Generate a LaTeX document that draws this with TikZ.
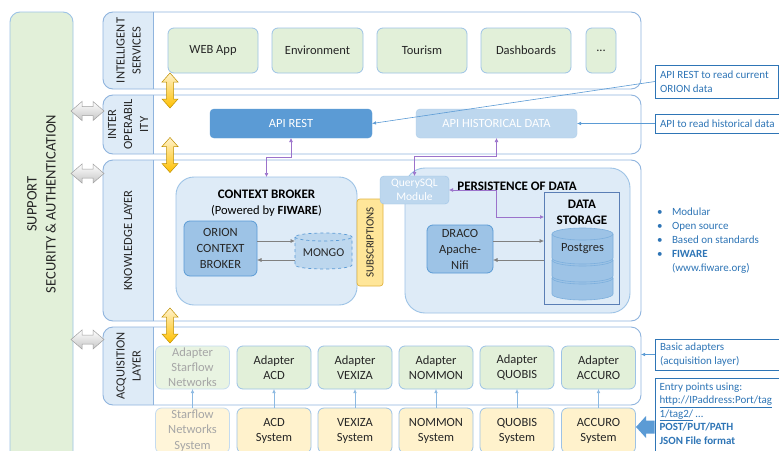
\documentclass[tikz,border=0pt]{standalone}
\usepackage{fontspec}
\setmainfont{Carlito}
\usetikzlibrary{arrows.meta}
\definecolor{lgreen}{HTML}{E2F0D9}
\definecolor{lblue}{HTML}{9DC3E6}
\definecolor{layerc}{HTML}{8FB4DE}
\definecolor{lblfill}{HTML}{DEEBF7}
\definecolor{midblue}{HTML}{5B9BD5}
\definecolor{paleblue}{HTML}{BDD7EE}
\definecolor{yfill}{HTML}{FFF2CC}
\definecolor{subfill}{HTML}{FFE699}
\definecolor{subdraw}{HTML}{E2B33F}
\definecolor{callblue}{HTML}{2E75B6}
\definecolor{purp}{HTML}{9B72CB}
\definecolor{dsdraw}{HTML}{5A7EB5}
\definecolor{orl}{HTML}{FFF2CC}
\definecolor{ord}{HTML}{FFC000}
\definecolor{ordraw}{HTML}{BF9000}
\definecolor{txt}{HTML}{262626}
\definecolor{greytxt}{HTML}{A6A6A6}

\tikzset{
  every node/.style={inner sep=0pt, outer sep=0pt, text=txt},
  bt/.style={font=\fontsize{12.5}{15}\selectfont, align=center},
  gbox/.style={bt, draw=lblue, fill=lgreen, line width=0.8pt, rounded corners=6pt, minimum height=45pt},
  abox/.style={gbox, minimum width=74pt, minimum height=43pt},
  ybox/.style={bt, draw=lblue, fill=yfill, line width=0.8pt, rounded corners=6pt, minimum width=74pt, minimum height=45pt},
  obox/.style={bt, font=\fontsize{12.5}{16}\selectfont, draw=midblue, fill=lblue, line width=0.8pt, rounded corners=6pt},
  layerline/.style={draw=layerc, line width=0.9pt},
  layernode/.style={minimum width=538pt},
  lbl/.style={align=center, rotate=90, font=\fontsize{12.5}{16}\selectfont},
  ttl/.style={font=\fontsize{13}{16}\selectfont\bfseries, align=center, text=black},
  garr/.style={draw=gray, line width=0.6pt, -{Latex[length=4.5pt,width=4pt]}},
  parr/.style={draw=purp, line width=0.7pt, {Latex[length=4pt,width=4pt]}-{Latex[length=4pt,width=4pt]}},
  barr/.style={draw=midblue!70, line width=0.6pt, -{Latex[length=4pt,width=3.5pt]}},
  carr/.style={draw=midblue, line width=0.6pt, -{Latex[length=4pt,width=3.5pt]}},
  cbox/.style={draw=callblue, line width=0.8pt, anchor=north west},
  ctext/.style={font=\fontsize{11}{13.5}\selectfont, align=left, text=callblue},
  oarrow/.style={draw=ordraw, line width=0.5pt, top color=orl, bottom color=ord},
  harrow/.style={draw=gray!75, line width=0.5pt, top color=white, bottom color=gray!45},
  pgcyl/.style={fill=lblue, draw=midblue!80, line width=0.6pt},
  pgline/.style={draw=midblue!80, line width=0.6pt},
  mgcyl/.style={fill=paleblue, draw=midblue, line width=0.7pt, dashed},
}

\newcommand{\mklayerpaint}[1]{%
  \fill[white, rounded corners=10pt] (#1.north west) rectangle (#1.south east);
  \begin{scope}
    \clip (#1.north west) rectangle ([xshift=50pt]#1.south west);
    \fill[lblfill, rounded corners=10pt] (#1.north west) rectangle (#1.south east);
  \end{scope}
  \draw[layerline] ([xshift=50pt]#1.north west) -- ([xshift=50pt]#1.south west);
  \draw[layerline, rounded corners=10pt] (#1.north west) rectangle (#1.south east);
}
\newcommand{\mkvarrow}[2]{%
  \path[oarrow, shift={(#1,#2)}] (0,-17.5) -- (8,-8.5) -- (3.5,-8.5) -- (3.5,8.5) -- (8,8.5) -- (0,17.5) -- (-8,8.5) -- (-3.5,8.5) -- (-3.5,-8.5) -- (-8,-8.5) -- cycle;}
\newcommand{\mkharrow}[2]{%
  \path[harrow, shift={(#1,#2)}] (-16.5,0) -- (-5.5,-9.5) -- (-5.5,-4.5) -- (5.5,-4.5) -- (5.5,-9.5) -- (16.5,0) -- (5.5,9.5) -- (5.5,4.5) -- (-5.5,4.5) -- (-5.5,9.5) -- cycle;}
\newcommand{\mkpgcyl}[2]{%
  \path[pgcyl] (552,#1) -- (552,#2) arc[start angle=180,end angle=360,x radius=30.5pt,y radius=6pt] -- (613,#1) arc[start angle=0,end angle=180,x radius=30.5pt,y radius=6pt] -- cycle;
  \draw[pgline] (552,#1) arc[start angle=180,end angle=360,x radius=30.5pt,y radius=6pt];}

\begin{document}
\begin{tikzpicture}[x=1pt,y=-1pt]
\useasboundingbox (0,0) rectangle (779,450);
\clip (0,0) rectangle (779,450);
\fill[white] (0,0) rectangle (779,450);

% support column
\node[draw=lblue, fill=lgreen, line width=0.9pt, rounded corners=10pt, minimum width=63pt, minimum height=460pt, anchor=north west] (sup) at (10,12) {};
\node[align=center, rotate=90, font=\fontsize{14.5}{19}\selectfont] (supt) at (41.5,204) {SUPPORT\\SECURITY \& AUTHENTICATION};

% layers
\node[layernode, minimum height=77pt] (isl) at (372,50.5) {};
\node[layernode, minimum height=59pt] (iol) at (372,124.5) {};
\node[layernode, minimum height=161pt] (kl) at (372,240.5) {};
\node[layernode, minimum height=78pt] (al) at (372,366) {};
\mklayerpaint{isl}
\mklayerpaint{iol}
\mklayerpaint{kl}
\mklayerpaint{al}
\node[lbl] (islt) at (128.5,50.5) {INTELLIGENT\\SERVICES};
\node[lbl] (iolt) at (128,124.5) {INTER\\OPERABIL\\ITY};
\node[lbl] (klt) at (128,240.5) {KNOWLEDGE LAYER};
\node[lbl] (alt) at (128.5,366) {ACQUISITION\\LAYER};

% intelligent services
\node[gbox, minimum width=90pt] (web) at (213,50.5) {WEB App};
\node[gbox, minimum width=91pt] (env) at (317.5,50.5) {Environment};
\node[gbox, minimum width=90pt] (tour) at (422,50.5) {Tourism};
\node[gbox, minimum width=90pt] (dash) at (526,50.5) {Dashboards};
\node[gbox, minimum width=30pt] (more) at (601,50.5) {...};

% interoperability
\node[bt, fill=midblue, draw=midblue, text=white, rounded corners=4pt, minimum width=162pt, minimum height=29pt] (apirest) at (291,123.5) {API REST};
\node[bt, fill=paleblue, draw=paleblue!85!midblue, text=white, rounded corners=4pt, minimum width=161pt, minimum height=29pt] (apihist) at (496.5,123.5) {API HISTORICAL DATA};

% knowledge: context broker
\node[draw=lblue, fill=lblfill, line width=0.9pt, rounded corners=18pt, minimum width=181pt, minimum height=128pt] (cb) at (266.5,241) {};
\node[ttl] (cbt) at (266.5,194) {CONTEXT BROKER};
\node[bt, text=black] (cbs) at (266.5,210.5) {(Powered by \textbf{FIWARE})};
\node[obox, minimum width=73pt, minimum height=55pt] (orion) at (220.5,248.5) {ORION\\CONTEXT\\BROKER};
\path[mgcyl] (295,237) -- (295,265) arc[start angle=180,end angle=360,x radius=28.5pt,y radius=4pt] -- (352,237) arc[start angle=0,end angle=180,x radius=28.5pt,y radius=4pt] -- cycle;
\draw[mgcyl, fill=none] (295,237) arc[start angle=180,end angle=360,x radius=28.5pt,y radius=4pt];
\node[bt, font=\fontsize{12}{14}\selectfont, minimum width=57pt, minimum height=36pt] (mongo) at (323.5,253) {MONGO};
\draw[garr] (orion.east |- 0,241) -- (mongo.west |- 0,241);
\draw[garr] (mongo.west |- 0,260) -- (orion.east |- 0,260);
\node[rotate=90, draw=subdraw, fill=subfill, line width=0.7pt, rounded corners=3pt, minimum width=87pt, minimum height=26pt, font=\fontsize{11}{13}\selectfont] (subs) at (370,242.5) {SUBSCRIPTIONS};

% knowledge: persistence
\node[draw=lblue, fill=lblfill, line width=0.9pt, rounded corners=20pt, minimum width=225pt, minimum height=145pt] (pers) at (517.5,240.5) {};
\node[bt, font=\fontsize{11.5}{14}\selectfont, fill=paleblue, draw=lblue, text=white, rounded corners=4pt, minimum width=69pt, minimum height=28pt] (qsql) at (414.5,190) {QuerySQL\\Module};
\node[draw=dsdraw, fill=lblfill, line width=1pt, minimum width=75pt, minimum height=112pt] (ds) at (581.5,248) {};
\node[ttl] (dst) at (582,212) {DATA\\STORAGE};
\mkpgcyl{278}{294}
\mkpgcyl{260}{276}
\mkpgcyl{234}{258}
\node[bt] (pg) at (582.5,249) {Postgres};
\node[obox, minimum width=66pt, minimum height=48pt] (draco) at (460,249) {DRACO\\Apache-\\Nifi};
\draw[garr] (draco.east |- 0,241) -- (ds.west |- 0,241);
\draw[garr] (ds.west |- 0,260) -- (draco.east |- 0,260);

% purple links
\draw[parr] (apirest.south) -- ++(0,19) -| (cb.north);
\draw[parr] (apihist.south) -- ++(0,18) -| (qsql.north);
\draw[parr] (qsql.east) -- (496,190) |- (ds.west |- 0,217);
\node[ttl] (pt) at (517,186) {PERSISTENCE OF DATA};

% acquisition
\node[abox, draw=lblue!60, fill=lgreen!75, text=greytxt] (a1) at (192.5,367.5) {Adapter\\Starflow\\Networks};
\node[abox] (a2) at (274,367.5) {Adapter\\ACD};
\node[abox] (a3) at (355,367.5) {Adapter\\VEXIZA};
\node[abox] (a4) at (436,367.5) {Adapter\\NOMMON};
\node[abox] (a5) at (517,367.5) {Adapter\\QUOBIS};
\node[abox] (a6) at (598.5,367.5) {Adapter\\ACCURO};
\node[ybox, draw=lblue!60, fill=yfill!75, text=greytxt, font=\fontsize{12.5}{15.5}\selectfont] (s1) at (192.5,430.5) {Starflow\\Networks\\System};
\node[ybox] (s2) at (274,430.5) {ACD\\System};
\node[ybox] (s3) at (355,430.5) {VEXIZA\\System};
\node[ybox] (s4) at (436,430.5) {NOMMON\\System};
\node[ybox] (s5) at (517,430.5) {QUOBIS\\System};
\node[ybox] (s6) at (598.5,430.5) {ACCURO\\System};
\foreach \i in {1,...,6}{\draw[barr] (s\i.north) -- (a\i.south);}

% layer arrows
\mkvarrow{170}{90.5}
\mkvarrow{170}{155}
\mkvarrow{170}{325.5}
\mkharrow{87.5}{111}
\mkharrow{87.5}{173.5}
\mkharrow{87.5}{339.5}

% right callouts
\node[cbox, minimum width=123pt, minimum height=33pt] (c1) at (655,65) {};
\node[ctext, anchor=west] (c1t) at ([xshift=5pt]c1.west) {API REST to read current\\ORION data};
\node[cbox, minimum width=135pt, minimum height=19pt] (c2) at (655,114) {};
\node[ctext, anchor=west] (c2t) at ([xshift=5pt]c2.west) {API to read historical data};
\draw[carr] (c1.west) -- (apirest.east);
\draw[carr] (c2.west) -- (apihist.east);
\node[ctext, font=\fontsize{11}{14}\selectfont, anchor=north west] (bul) at (657,208) {\makebox[15pt][l]{•}Modular\\\makebox[15pt][l]{•}Open source\\\makebox[15pt][l]{•}Based on standards\\\makebox[15pt][l]{•}\textbf{FIWARE}\\\makebox[15pt][l]{}(www.fiware.org)};
\node[cbox, minimum width=135pt, minimum height=31pt] (c3) at (655,339) {};
\node[ctext, anchor=west] (c3t) at ([xshift=5pt]c3.west) {Basic adapters\\(acquisition layer)};
\draw[carr] (c3.west) -- (al.east |- c3.west);
\node[cbox, minimum width=135pt, minimum height=85pt] (c4) at (655,378) {};
\node[ctext, anchor=north west] (c4t) at (659.5,382.5) {Entry points using:\\\underline{http://IPaddress:Port/tag}\\\underline{1/tag2/} …\\\textbf{POST/PUT/PATH}\\\textbf{JSON File format}};
\fill[midblue] (636,427) -- (646,416) -- (646,420.5) -- (654.5,420.5) -- (654.5,433.5) -- (646,433.5) -- (646,438) -- cycle;
\end{tikzpicture}
\end{document}
